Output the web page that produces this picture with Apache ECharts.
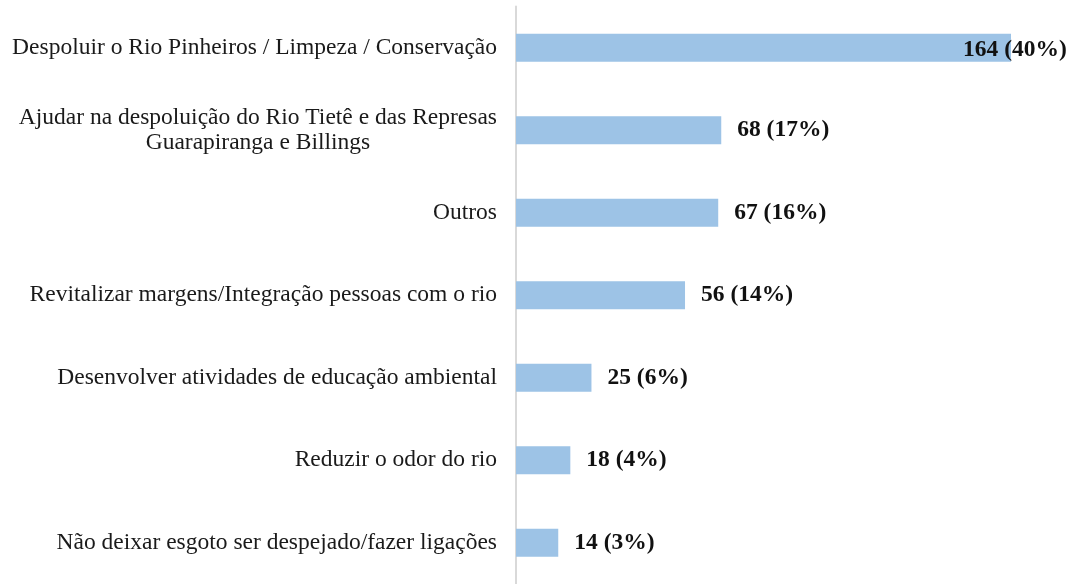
<!DOCTYPE html>
<html>
<head>
<meta charset="utf-8">
<script src="https://cdn.jsdelivr.net/npm/echarts@6/dist/echarts.min.js"></script>
<style>
  html, body { margin: 0; padding: 0; background: #fff; }
  #chart { width: 1076px; height: 584px; }
</style>
</head>
<body>
<div id="chart"></div>
<script>
const categories = [
  'Despoluir o Rio Pinheiros / Limpeza / Conservação',
  'Ajudar na despoluição do Rio Tietê e das Represas\nGuarapiranga e Billings',
  'Outros',
  'Revitalizar margens/Integração pessoas com o rio',
  'Desenvolver atividades de educação ambiental',
  'Reduzir o odor do rio',
  'Não deixar esgoto ser despejado/fazer ligações'
];
const counts = [164, 68, 67, 56, 25, 18, 14];
const percents = [40, 17, 16, 14, 6, 4, 3];

const chart = echarts.init(document.getElementById('chart'));

const barData = counts.map((v, i) => {
  const item = { value: v };
  // the longest bar has its label pulled back over the bar end
  if (i === 0) item.label = { offset: [-64, 2] };
  return item;
});

const labelFont = { fontFamily: 'Liberation Serif', fontSize: 23.5, color: '#1a1a1a', lineHeight: 25 };

chart.setOption({
  animation: false,
  grid: { left: 516, right: 65, top: 6.5, height: 581 },
  xAxis: {
    type: 'value',
    min: 0,
    max: 164,
    show: false
  },
  yAxis: {
    type: 'category',
    data: categories,
    inverse: true,
    axisLine: { show: true, lineStyle: { color: '#d9d9d9', width: 2 } },
    axisTick: { show: false },
    axisLabel: Object.assign({
      margin: 19,
      align: 'right',
      // two-line labels are centred line by line, like the original
      formatter: v => v.indexOf('\n') < 0 ? v : v.split('\n').map(s => '{c|' + s + '}').join('\n'),
      rich: { c: Object.assign({ align: 'center' }, labelFont) }
    }, labelFont)
  },
  series: [{
    type: 'bar',
    data: barData,
    barWidth: 28,
    itemStyle: { color: '#9dc3e6' },
    label: {
      show: true,
      position: 'right',
      distance: 16,
      color: '#111',
      fontFamily: 'Liberation Serif',
      fontWeight: 'bold',
      fontSize: 23.5,
      formatter: p => counts[p.dataIndex] + ' (' + percents[p.dataIndex] + '%)'
    }
  }]
});
</script>
</body>
</html>
